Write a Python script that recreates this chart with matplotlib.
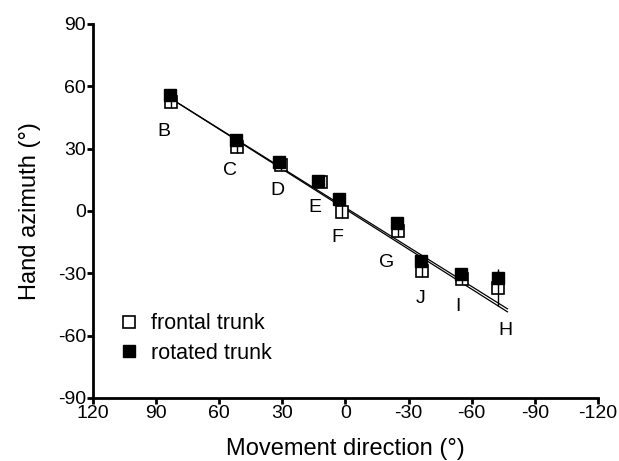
import numpy as np
import matplotlib
matplotlib.use("Agg")
import matplotlib.pyplot as plt
from matplotlib.lines import Line2D

plt.rcParams['font.family'] = ['Liberation Sans', 'DejaVu Sans']
plt.rcParams['axes.unicode_minus'] = False

# Data (degrees)
targets = ["B", "C", "D", "E", "F", "G", "J", "I", "H"]
dir_frontal = [83.0, 51.5, 30.5, 11.5, 1.5, -25.0, -36.5, -55.5, -72.7]
az_frontal = [52.4, 30.8, 22.0, 13.9, -0.5, -9.6, -28.8, -32.7, -37.0]
err_frontal = [3.0, 3.0, 2.5, 2.5, 3.0, 3.0, 3.0, 2.5, 9.0]
dir_rotated = [83.2, 51.8, 31.4, 12.8, 2.9, -24.7, -36.1, -54.7, -72.7]
az_rotated = [55.8, 34.1, 23.6, 14.4, 5.8, -5.8, -24.0, -30.3, -32.2]
err_rotated = [2.5, 2.5, 2.0, 2.0, 2.5, 2.5, 2.5, 2.0, 3.5]

# regression lines (slope, intercept) as drawn, and their x extent
fit_slope = [0.642, 0.633]
fit_intercept = [0.85, 1.6]
fit_range = [80.3, -77.0]

# label offsets in pixels relative to the rotated-trunk marker
label_offsets = [(-6, -36), (-6, -30), (-2, -29), (-4, -27), (-2, -39),
                 (-11, -40), (-1, -38), (-3, -33), (7, -53)]

fig = plt.figure(figsize=(6.19, 4.61), dpi=100)
ax = fig.add_axes([0.150, 0.137, 0.816, 0.811])

xl = np.array(fit_range)
for m, b in zip(fit_slope, fit_intercept):
    ax.plot(xl, m * xl + b, color="black", lw=0.9, zorder=2)

ax.plot(dir_frontal, az_frontal, "s", ms=9, mfc="white", mec="black",
        mew=1.2, zorder=3)
ax.errorbar(dir_frontal, az_frontal, yerr=err_frontal, fmt="none",
            ecolor="black", elinewidth=1, capsize=0, zorder=3.5)
ax.errorbar(dir_rotated, az_rotated, yerr=err_rotated, fmt="s", ms=9,
            mfc="black", mec="black", ecolor="black", elinewidth=1,
            capsize=0, zorder=4)

for name, x, y, off in zip(targets, dir_rotated, az_rotated, label_offsets):
    ax.annotate(name, (x, y), xytext=off, textcoords="offset pixels",
                ha="center", va="center", fontsize=14)

ax.set_xlim(120, -120)
ax.set_ylim(-90, 90)
ax.set_xticks([120, 90, 60, 30, 0, -30, -60, -90, -120])
ax.set_yticks([90, 60, 30, 0, -30, -60, -90])
ax.spines["top"].set_visible(False)
ax.spines["right"].set_visible(False)
ax.spines["left"].set_linewidth(2)
ax.spines["bottom"].set_linewidth(2)
ax.tick_params(direction="out", length=4, width=2, labelsize=14, pad=1)

ax.set_xlabel("Movement direction (°)", fontsize=17, labelpad=12)
ax.set_ylabel("Hand azimuth (°)", fontsize=17, labelpad=12)

handles = [
    Line2D([], [], ls="none", marker="s", ms=9, mfc="white", mec="black", mew=1.2),
    Line2D([], [], ls="none", marker="s", ms=9, mfc="black", mec="black"),
]
ax.legend(handles, ["frontal trunk", "rotated trunk"], loc="lower left",
          bbox_to_anchor=(0.012, 0.04), frameon=False, fontsize=15.5,
          handletextpad=0.5, labelspacing=0.38, handlelength=1.0)

fig.savefig("out.png", dpi=100)
